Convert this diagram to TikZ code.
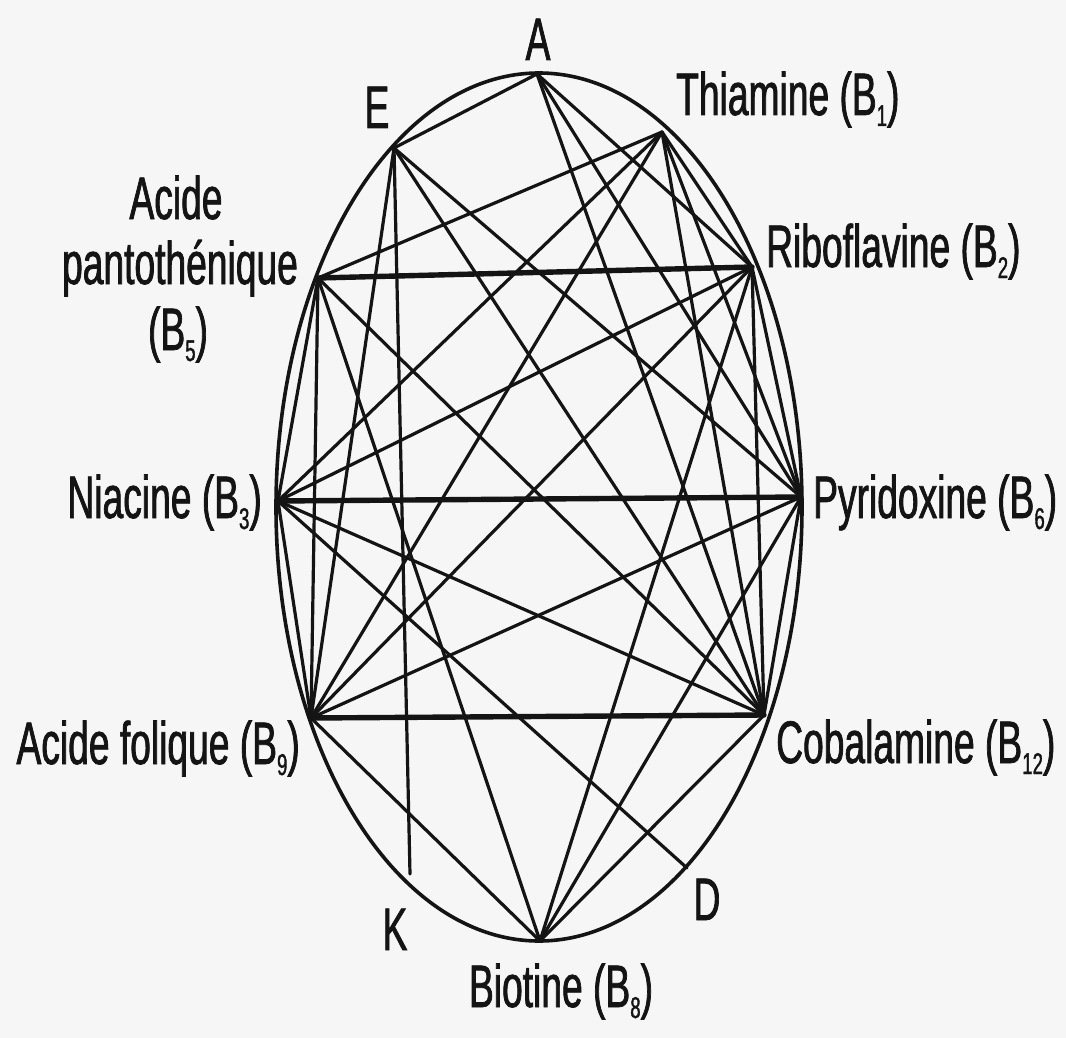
\documentclass[tikz,border=0pt]{standalone}
\usepackage{fontspec}
\setmainfont{Liberation Sans}[FakeStretch=0.62,FakeBold=1.2]
\definecolor{ink}{HTML}{141414}
\definecolor{bg}{HTML}{F6F6F6}
\newcommand\sbs[1]{\raisebox{-11pt}{\fontsize{30}{30}\selectfont #1}}
\begin{document}
\begin{tikzpicture}[x=1pt,y=-1pt,
  edge/.style={line width=3.2pt, draw=ink, line cap=round},
  boldedge/.style={line width=5.4pt, draw=ink, line cap=round},
  rim/.style={line width=3.6pt, draw=ink},
  lbl/.style={font=\fontsize{60}{64}\selectfont, text=ink, inner sep=0pt}]
\fill[bg] (0,0) rectangle (1066,1038);
\useasboundingbox (0,0) rectangle (1066,1038);
% points on the ellipse
\coordinate (A)   at (537,74);
\coordinate (B1)  at (662,132);
\coordinate (E)   at (394,148);
\coordinate (B2)  at (752,267);
\coordinate (B5)  at (318,278);
\coordinate (B3)  at (278,501);
\coordinate (B6)  at (801,497);
\coordinate (B9)  at (311,718);
\coordinate (B12) at (764,715);
\coordinate (D)   at (687,868);
\coordinate (B8)  at (540,941);
\coordinate (K)   at (410,874);
\coordinate (O)   at (539,507);
% ellipse
\draw[rim] (O) ellipse [x radius=263, y radius=434];
% connectors
\foreach \a/\b in {A/E, A/B2, A/B6, A/B12,
                   E/B6, E/B12, E/B9, E/K,
                   B1/B5, B1/B3, B1/B9, B1/B2, B1/B6, B1/B12,
                   B2/B3, B2/B9, B2/B8, B2/B6, B2/B12,
                   B5/B3, B5/B9, B5/B8, B5/B12,
                   B3/B12, B3/D, B3/B9,
                   B6/B9, B6/B8, B6/B12,
                   B9/B8, B12/B8}
  \draw[edge] (\a) -- (\b);
\foreach \a/\b in {B5/B2, B3/B6, B9/B12}
  \draw[boldedge] (\a) -- (\b);
% labels
\node[lbl, anchor=base] (lA) at (538,60) {A};
\node[lbl, anchor=base] (lE) at (377,128) {E};
\node[lbl, anchor=base west] (lB1) at (676,115) {Thiamine (B\sbs{1})};
\node[lbl, anchor=base west] (lB2) at (766,267) {Riboflavine (B\sbs{2})};
\node[lbl, anchor=base west] (lB6) at (813,518) {Pyridoxine (B\sbs{6})};
\node[lbl, anchor=base west] (lB12) at (776,763) {Cobalamine (B\sbs{12})};
\node[lbl, anchor=base east] (lB3) at (262,518) {Niacine (B\sbs{3})};
\node[lbl, anchor=base east] (lB9) at (300,764) {Acide folique (B\sbs{9})};
\node[lbl, anchor=base] (lB5a) at (176,219) {Acide};
\node[lbl, anchor=base] (lB5b) at (180,284) {pantothénique};
\node[lbl, anchor=base] (lB5c) at (178,350) {(B\sbs{5})};
\node[lbl, anchor=base] (lD) at (707,920) {D};
\node[lbl, anchor=base] (lK) at (395,950) {K};
\node[lbl, anchor=base] (lB8) at (561,1007) {Biotine (B\sbs{8})};
\end{tikzpicture}
\end{document}
